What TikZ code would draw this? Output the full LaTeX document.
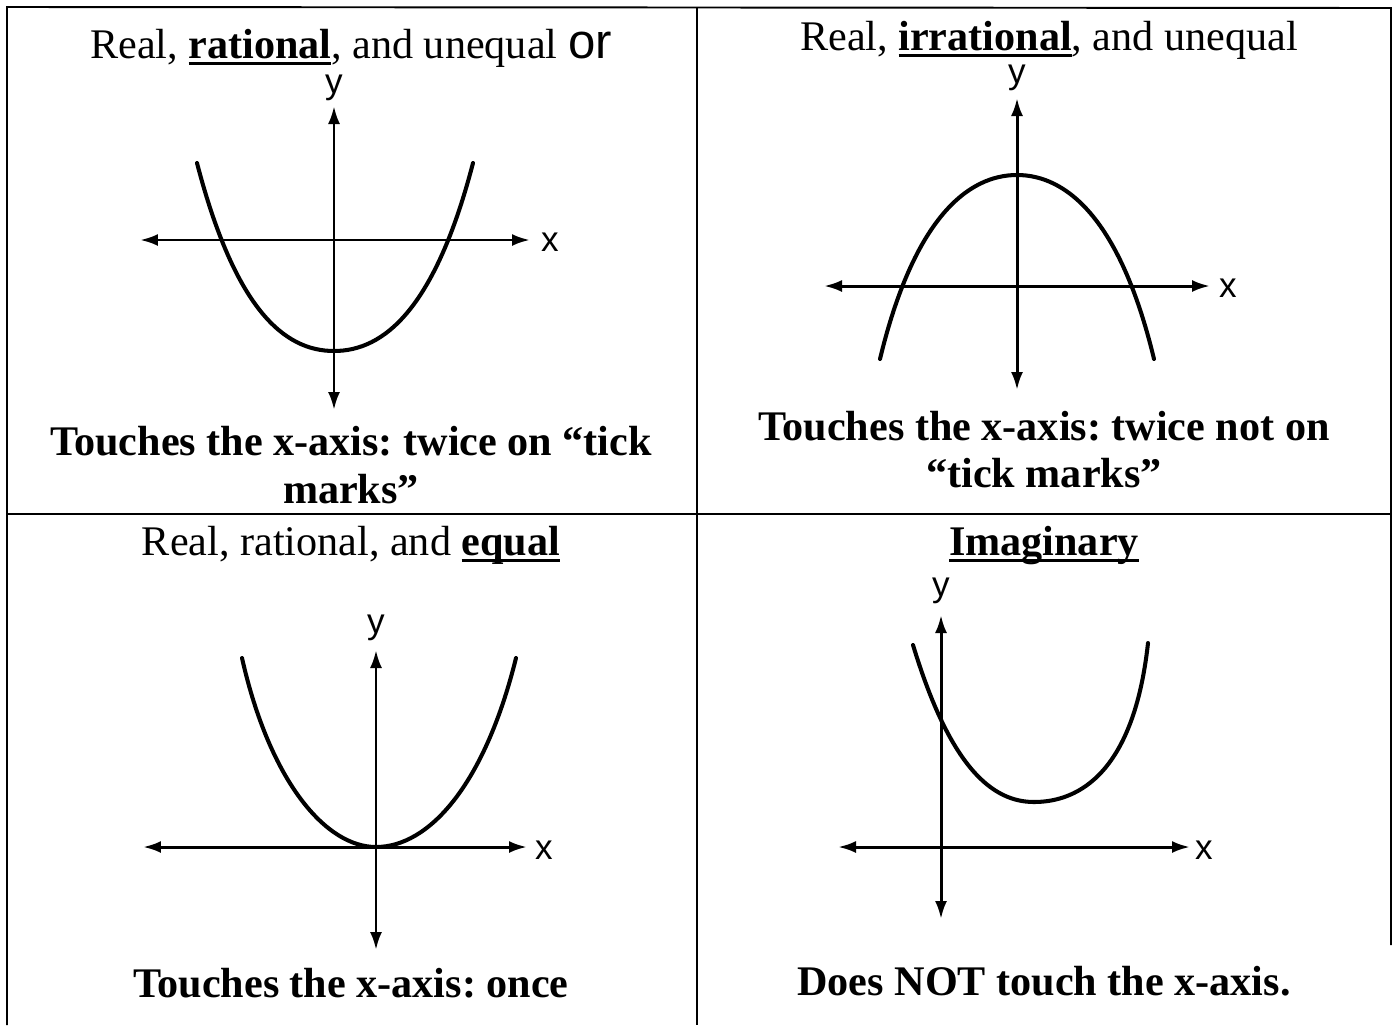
\documentclass[tikz,border=0pt]{standalone}
\usepackage{fontspec}
\setmainfont{Liberation Serif}
\newfontfamily\axisfont{Liberation Sans}
\usetikzlibrary{arrows.meta}
\frenchspacing

% bold word with a heavy underline
\newcommand{\ulbold}[1]{\setbox0\hbox{\bfseries #1}\rlap{\rule[-4pt]{\wd0}{1.6pt}}\box0}

\tikzset{
  gridline/.style={line width=1.1pt},
  axisline/.style={<->, line width=1.7pt},
  curveline/.style={line width=2.3pt, line cap=round},
  axislabel/.style={font=\axisfont\fontsize{20}{24}\selectfont, inner sep=0pt},
  headtext/.style={anchor=base, inner sep=0pt, font=\fontsize{24}{28}\selectfont},
  notetext/.style={anchor=base, inner sep=0pt, font=\fontsize{24}{28}\selectfont\bfseries},
}

\begin{document}
\begin{tikzpicture}[x=0.02cm, y=-0.02cm, >={Latex[length=3.6mm, width=2.4mm]}]

\useasboundingbox (0,0) rectangle (1393,1025);

% Table grid
\draw[gridline] (7,1025) -- (7,7) -- (1391,8) -- (1391,945);
\draw[gridline] (697,7) -- (697,1025);
\draw[gridline, line width=0.8pt] (7,514) -- (1391,514);

% Top left: two rational roots
\node[headtext] (tl-head) at (351,58) {Real, \ulbold{rational}, and unequal {\axisfont\fontsize{28}{30}\selectfont or}};
\draw[axisline] (140,240) -- (530,240);
\draw[axisline] (334,106) -- (334,410);
\node[axislabel] (tl-x) at (550,242) {x};
\node[axislabel] (tl-y) at (334,88) {y};
\draw[curveline] (197,163) .. controls (235,309) and (284,351) .. (334,351)
                 .. controls (384,351) and (435,309) .. (473,163);
\node[notetext] (tl-note1) at (351,455) {Touches the x-axis: twice on “tick};
\node[notetext] (tl-note2) at (351,503) {marks”};

% Top right: two irrational roots
\node[headtext] (tr-head) at (1049,50) {Real, \ulbold{irrational}, and unequal};
\draw[axisline] (824,286) -- (1210,286);
\draw[axisline] (1017,98) -- (1017,390);
\node[axislabel] (tr-x) at (1228,288) {x};
\node[axislabel] (tr-y) at (1017,78) {y};
\draw[curveline] (880,359) .. controls (914,218) and (968,175) .. (1017,175)
                 .. controls (1066,175) and (1120,218) .. (1154,359);
\node[notetext] (tr-note1) at (1044,440) {Touches the x-axis: twice not on};
\node[notetext] (tr-note2) at (1044,487) {“tick marks”};

% Bottom left: one double root
\node[headtext] (bl-head) at (351,555) {Real, rational, and \ulbold{equal}};
\draw[axisline] (143,847) -- (527,847);
\draw[axisline] (376,650) -- (376,950);
\node[axislabel] (bl-x) at (544,850) {x};
\node[axislabel] (bl-y) at (376,628) {y};
\draw[curveline] (242,658) .. controls (270,782) and (326,847) .. (376,847)
                 .. controls (428,847) and (484,787) .. (516,658);
\node[notetext] (bl-note) at (351,997) {Touches the x-axis: once};

% Bottom right: no real roots
\node[headtext] (br-head) at (1044,555) {\ulbold{Imaginary}};
\draw[axisline] (838,847) -- (1190,847);
\draw[axisline] (941,615) -- (941,919);
\node[axislabel] (br-x) at (1204,850) {x};
\node[axislabel] (br-y) at (941,591) {y};
\draw[curveline] (913,645) .. controls (950,767) and (992,802) .. (1034,802)
                 .. controls (1080,802) and (1134,771) .. (1148,643);
\node[notetext] (br-note) at (1044,995) {Does NOT touch the x-axis.};

\end{tikzpicture}
\end{document}
